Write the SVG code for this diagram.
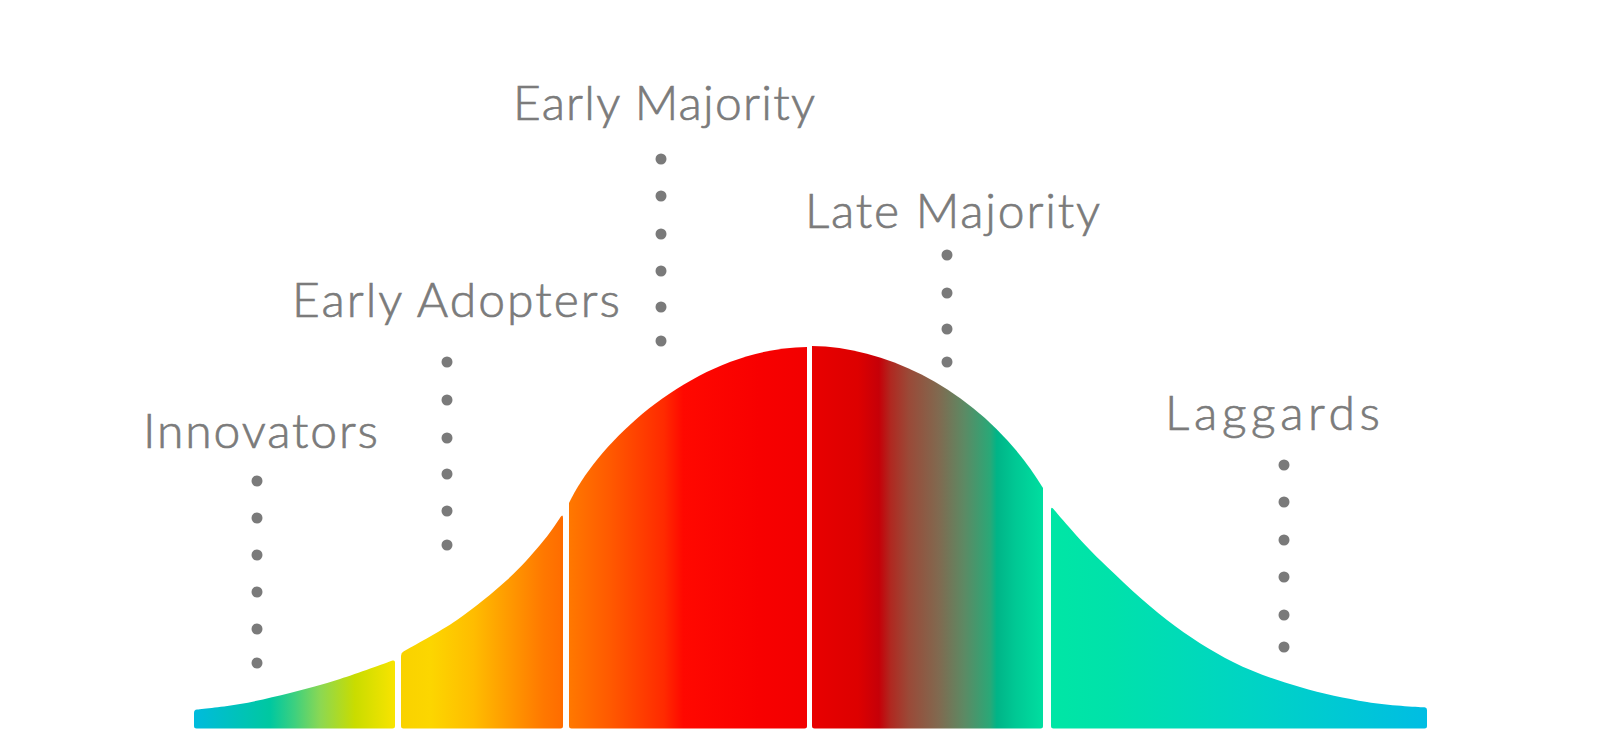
<svg xmlns="http://www.w3.org/2000/svg" width="1600" height="737" viewBox="0 0 1600 737">
  <style>
    .lbl { font-family: Lato, "Liberation Sans", sans-serif; font-weight: 300; font-size: 48px; fill: #7b7b7b; stroke: #7b7b7b; stroke-width: 0.7px; }
    .dot { fill: #7a7a7a; }
  </style>
  <defs>
    <linearGradient id="g1" gradientUnits="userSpaceOnUse" x1="194" y1="0" x2="395" y2="0">
      <stop offset="0" stop-color="#00bbdd"/>
      <stop offset="0.38" stop-color="#00c8a0"/>
      <stop offset="0.5" stop-color="#3dd07f"/>
      <stop offset="0.63" stop-color="#8cd852"/>
      <stop offset="0.8" stop-color="#c9dc00"/>
      <stop offset="1" stop-color="#f8e400"/>
    </linearGradient>
    <linearGradient id="g2" gradientUnits="userSpaceOnUse" x1="401" y1="0" x2="563" y2="0">
      <stop offset="0" stop-color="#f9d200"/>
      <stop offset="0.18" stop-color="#fcd600"/>
      <stop offset="0.45" stop-color="#ffbc00"/>
      <stop offset="0.7" stop-color="#ff9400"/>
      <stop offset="0.88" stop-color="#ff7800"/>
      <stop offset="1" stop-color="#ff6c00"/>
    </linearGradient>
    <linearGradient id="g3" gradientUnits="userSpaceOnUse" x1="569" y1="0" x2="807" y2="0">
      <stop offset="0" stop-color="#ff7800"/>
      <stop offset="0.17" stop-color="#ff5a00"/>
      <stop offset="0.4" stop-color="#ff2a00"/>
      <stop offset="0.48" stop-color="#ff0800"/>
      <stop offset="0.8" stop-color="#f80000"/>
      <stop offset="1" stop-color="#f20000"/>
    </linearGradient>
    <linearGradient id="g4" gradientUnits="userSpaceOnUse" x1="812" y1="0" x2="1043" y2="0">
      <stop offset="0" stop-color="#e80000"/>
      <stop offset="0.2" stop-color="#dd0000"/>
      <stop offset="0.29" stop-color="#c60008"/>
      <stop offset="0.34" stop-color="#b02820"/>
      <stop offset="0.42" stop-color="#9a4a38"/>
      <stop offset="0.55" stop-color="#806a50"/>
      <stop offset="0.66" stop-color="#5c8a64"/>
      <stop offset="0.77" stop-color="#2aa877"/>
      <stop offset="0.8" stop-color="#00b487"/>
      <stop offset="0.88" stop-color="#00c894"/>
      <stop offset="1" stop-color="#00dea0"/>
    </linearGradient>
    <linearGradient id="g5" gradientUnits="userSpaceOnUse" x1="1051" y1="0" x2="1427" y2="0">
      <stop offset="0" stop-color="#00e6a5"/>
      <stop offset="0.15" stop-color="#00e2aa"/>
      <stop offset="0.53" stop-color="#00d4c4"/>
      <stop offset="1" stop-color="#00bde3"/>
    </linearGradient>
  </defs>

  <rect width="1600" height="737" fill="#ffffff"/>

  <g id="curve">
    <path id="seg-innovators" fill="url(#g1)" d="M194,726 L194,713 Q194,710 197,709.6 C203,709 224,706.8 240,704 C256,701.2 273.3,697.2 290,693 C306.7,688.8 322.5,684.5 340,679 C357.5,673.5 385.8,663.2 392.5,660.6 Q395,659.8 395,662.5 L395,726 Q395,728.5 392.5,728.5 L196.5,728.5 Q194,728.5 194,726 Z"/>
    <path id="seg-early-adopters" fill="url(#g2)" d="M401,726 L401,656 Q401,653 403.5,651.6 C412,646.5 439.3,632.2 457,620 C474.7,607.8 493.2,592.5 507,580 C520.8,567.5 530.7,555.8 540,545 C549.3,534.2 558,521 560.5,517 Q563,513.5 563,518 L563,726 Q563,728.5 560.5,728.5 L403.5,728.5 Q401,728.5 401,726 Z"/>
    <path id="seg-early-majority" fill="url(#g3)" d="M569,726 L569,503 C600,438 698,348 807,347 L807,726 Q807,728.5 804.5,728.5 L571.5,728.5 Q569,728.5 569,726 Z"/>
    <path id="seg-late-majority" fill="url(#g4)" d="M812,346 C896,347 990,400 1043,488 L1043,726 Q1043,728.5 1040.5,728.5 L814.5,728.5 Q812,728.5 812,726 Z"/>
    <path id="seg-laggards" fill="url(#g5)" d="M1051,726 L1051,510 Q1051,506.5 1053,508.5 C1060,516.7 1080.7,541.3 1100,560 C1119.3,578.7 1144.8,603 1167,620 C1189.2,637 1210.8,650.8 1233,662 C1255.2,673.2 1277.7,680.3 1300,687 C1322.3,693.7 1345.8,698.5 1367,702 C1388.2,705.5 1417,707 1424.5,707.3 Q1427,707.5 1427,710 L1427,726 Q1427,728.5 1424.5,728.5 L1053.5,728.5 Q1051,728.5 1051,726 Z"/>
  </g>

  <g id="connectors">
    <g id="dots-innovators">
      <circle class="dot" cx="257" cy="481" r="5.5"/>
      <circle class="dot" cx="257" cy="518" r="5.5"/>
      <circle class="dot" cx="257" cy="555" r="5.5"/>
      <circle class="dot" cx="257" cy="592" r="5.5"/>
      <circle class="dot" cx="257" cy="629" r="5.5"/>
      <circle class="dot" cx="257" cy="663" r="5.5"/>
    </g>
    <g id="dots-early-adopters">
      <circle class="dot" cx="447" cy="362" r="5.5"/>
      <circle class="dot" cx="447" cy="400" r="5.5"/>
      <circle class="dot" cx="447" cy="438" r="5.5"/>
      <circle class="dot" cx="447" cy="474" r="5.5"/>
      <circle class="dot" cx="447" cy="511" r="5.5"/>
      <circle class="dot" cx="447" cy="545" r="5.5"/>
    </g>
    <g id="dots-early-majority">
      <circle class="dot" cx="661" cy="159" r="5.5"/>
      <circle class="dot" cx="661" cy="196" r="5.5"/>
      <circle class="dot" cx="661" cy="234" r="5.5"/>
      <circle class="dot" cx="661" cy="271" r="5.5"/>
      <circle class="dot" cx="661" cy="307" r="5.5"/>
      <circle class="dot" cx="661" cy="341" r="5.5"/>
    </g>
    <g id="dots-late-majority">
      <circle class="dot" cx="947" cy="255" r="5.5"/>
      <circle class="dot" cx="947" cy="293" r="5.5"/>
      <circle class="dot" cx="947" cy="329" r="5.5"/>
      <circle class="dot" cx="947" cy="362" r="5.5"/>
    </g>
    <g id="dots-laggards">
      <circle class="dot" cx="1284" cy="465" r="5.5"/>
      <circle class="dot" cx="1284" cy="502" r="5.5"/>
      <circle class="dot" cx="1284" cy="540" r="5.5"/>
      <circle class="dot" cx="1284" cy="577" r="5.5"/>
      <circle class="dot" cx="1284" cy="615" r="5.5"/>
      <circle class="dot" cx="1284" cy="647" r="5.5"/>
    </g>
  </g>

  <g id="node-innovators">
    <text class="lbl" x="143" y="448" textLength="235">Innovators</text>
  </g>
  <g id="node-early-adopters">
    <text class="lbl" x="292" y="317" textLength="328">Early Adopters</text>
  </g>
  <g id="node-early-majority">
    <text class="lbl" x="513" y="119.5" textLength="302">Early Majority</text>
  </g>
  <g id="node-late-majority">
    <text class="lbl" x="805" y="228" textLength="295">Late Majority</text>
  </g>
  <g id="node-laggards">
    <text class="lbl" x="1165" y="430" textLength="215">Laggards</text>
  </g>
</svg>
